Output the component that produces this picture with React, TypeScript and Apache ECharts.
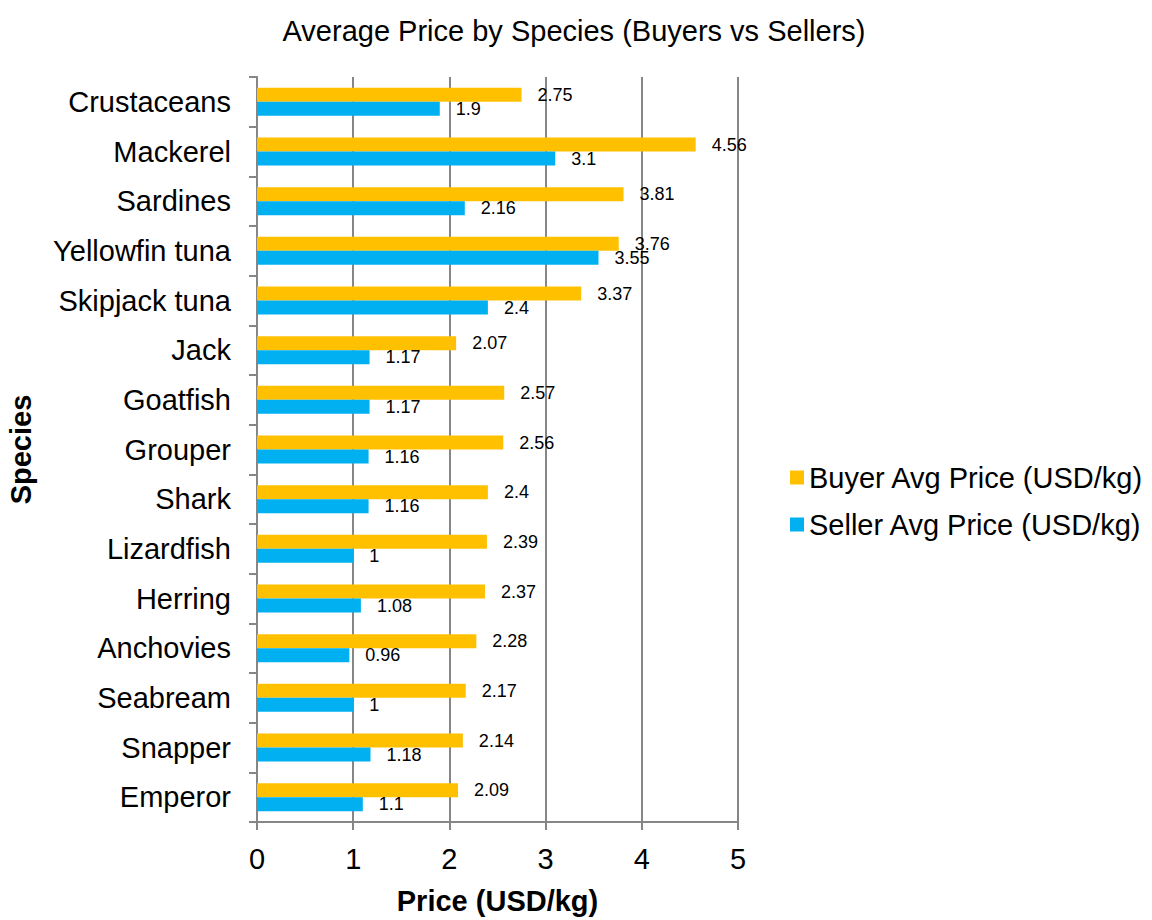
import React, { useEffect, useRef } from "react";
import * as echarts from "echarts";

const species = [
  "Crustaceans", "Mackerel", "Sardines", "Yellowfin tuna", "Skipjack tuna",
  "Jack", "Goatfish", "Grouper", "Shark", "Lizardfish",
  "Herring", "Anchovies", "Seabream", "Snapper", "Emperor",
];
const buyerAvg = [2.75, 4.56, 3.81, 3.76, 3.37, 2.07, 2.57, 2.56, 2.4, 2.39, 2.37, 2.28, 2.17, 2.14, 2.09];
const sellerAvg = [1.9, 3.1, 2.16, 3.55, 2.4, 1.17, 1.17, 1.16, 1.16, 1, 1.08, 0.96, 1, 1.18, 1.1];
const xTicks = [0, 1, 2, 3, 4, 5];

const FONT = "'Liberation Sans', Arial, sans-serif";
const GRAY = "#868686";
const BIG = 29;

export default function App() {
  const ref = useRef<HTMLDivElement>(null);
  useEffect(() => {
    const chart = echarts.init(ref.current!, null, { renderer: "svg" });
    chart.setOption({
      animation: false,
      textStyle: { fontFamily: FONT, color: "#000" },
      title: {
        text: "Average Price by Species (Buyers vs Sellers)",
        left: 569,
        textAlign: "center",
        top: 11,
        textStyle: { fontFamily: FONT, fontSize: BIG, fontWeight: "normal", color: "#000" },
      },
      legend: {
        orient: "vertical",
        left: 785,
        top: 458,
        itemWidth: 14,
        itemHeight: 14,
        itemGap: 18,
        icon: "rect",
        textStyle: { fontFamily: FONT, fontSize: BIG, color: "#000" },
        data: ["Buyer Avg Price (USD/kg)", "Seller Avg Price (USD/kg)"],
      },
      grid: { left: 257, top: 77, width: 481, height: 752, containLabel: false },
      xAxis: {
        type: "value",
        min: xTicks[0],
        max: xTicks[xTicks.length - 1],
        interval: 1,
        name: "Price (USD/kg)",
        nameLocation: "middle",
        nameGap: 64,
        nameTextStyle: { fontFamily: FONT, fontSize: BIG, fontWeight: "bold", color: "#000" },
        axisLine: { show: true, lineStyle: { color: GRAY, width: 2 } },
        axisTick: { show: true, length: 8, lineStyle: { color: GRAY, width: 2 } },
        axisLabel: { fontFamily: FONT, fontSize: BIG, color: "#000", margin: 22 },
        splitLine: { show: true, lineStyle: { color: GRAY, width: 2 } },
      },
      yAxis: {
        type: "category",
        data: species,
        inverse: true,
        name: "Species",
        nameLocation: "middle",
        nameGap: 222,
        nameRotate: 90,
        nameTextStyle: { fontFamily: FONT, fontSize: BIG, fontWeight: "bold", color: "#000" },
        axisLine: { show: true, lineStyle: { color: GRAY, width: 2 } },
        axisTick: { show: true, length: 8, lineStyle: { color: GRAY, width: 2 } },
        axisLabel: { fontFamily: FONT, fontSize: BIG, color: "#000", margin: 26 },
        splitLine: { show: false },
      },
      series: [
        {
          name: "Buyer Avg Price (USD/kg)",
          type: "bar",
          data: buyerAvg,
          barWidth: 14,
          barGap: "0%",
          itemStyle: { color: "#FFC000" },
          label: { show: true, position: "right", distance: 16, fontFamily: FONT, fontSize: 18, color: "#000" },
        },
        {
          name: "Seller Avg Price (USD/kg)",
          type: "bar",
          data: sellerAvg,
          barWidth: 14,
          barGap: "0%",
          itemStyle: { color: "#00B0F0" },
          label: { show: true, position: "right", distance: 16, fontFamily: FONT, fontSize: 18, color: "#000" },
        },
      ],
    });
    return () => chart.dispose();
  }, []);
  return <div ref={ref} style={{ position: "absolute", left: 0, top: 0, width: 1152, height: 920 }} />;
}
